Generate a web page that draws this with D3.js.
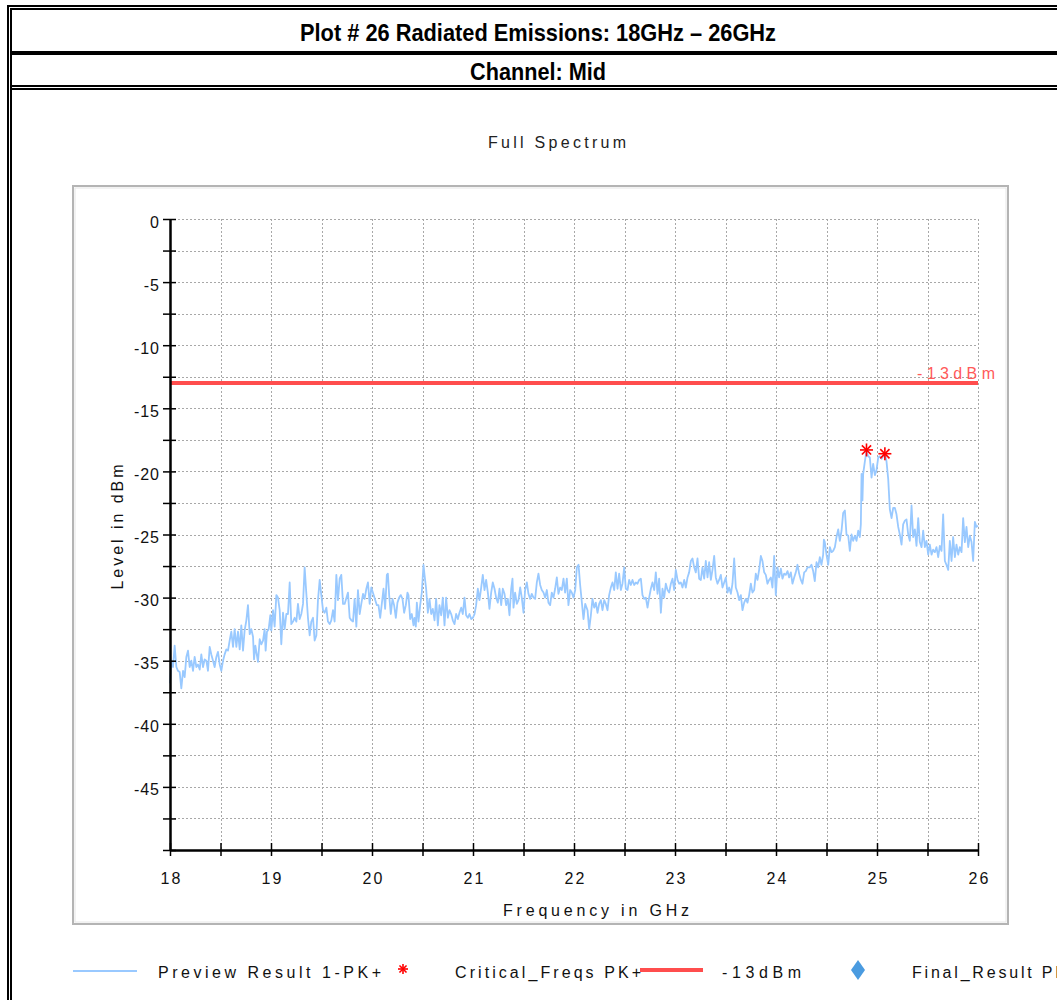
<!DOCTYPE html>
<html><head><meta charset="utf-8">
<script src="https://cdn.jsdelivr.net/npm/d3@7"></script>
<style>
html,body{margin:0;padding:0;background:#fff;overflow:hidden}
svg{display:block}
text{font-family:"Liberation Sans",Arial,sans-serif}
</style></head><body>
<svg id="c" width="1057" height="1000"></svg>
<script>
// ---------- DATA ----------
const headerTitle = "Plot # 26 Radiated Emissions: 18GHz \u2013 26GHz";
const channelTitle = "Channel: Mid";
const chartTitle = "Full Spectrum";
const xAxisTitle = "Frequency in GHz";
const yAxisTitle = "Level in dBm";
const xDomain = [18, 26];
const yDomain = [-50, 0];
const xMajorTicks = [18, 19, 20, 21, 22, 23, 24, 25, 26];
const xTickLabels = ["18", "19", "20", "21", "22", "23", "24", "25", "26"];
const xMinorTicks = [18.5, 19.5, 20.5, 21.5, 22.5, 23.5, 24.5, 25.5];
const yMajorTicks = [0, -5, -10, -15, -20, -25, -30, -35, -40, -45, -50];
const yTickLabels = ["0", "-5", "-10", "-15", "-20", "-25", "-30", "-35", "-40", "-45", ""];
const yMinorTicks = [-2.5, -7.5, -12.5, -17.5, -22.5, -27.5, -32.5, -37.5, -42.5, -47.5];
const limitLevel = -13;
const limitLabel = "-13dBm";
const criticalFreqs = [[24.896, -18.3], [25.078, -18.6]];
const legendLabels = ["Preview Result 1-PK+", "Critical_Freqs PK+", "-13dBm", "Final_Result PK+"];

// Preview Result 1-PK+ trace: [frequency GHz, level dBm]
const previewTrace = [
[18.000,-36.8],[18.013,-35.0],[18.030,-35.5],[18.046,-33.8],[18.063,-35.5],[18.079,-35.8],[18.096,-35.9],[18.112,-37.2],[18.129,-35.8],[18.145,-36.3],
[18.162,-34.7],[18.178,-34.2],[18.195,-35.5],[18.211,-35.0],[18.228,-35.8],[18.244,-34.7],[18.261,-35.5],[18.277,-35.3],[18.294,-35.7],[18.310,-34.5],
[18.327,-35.5],[18.343,-34.9],[18.360,-35.0],[18.376,-35.8],[18.393,-33.9],[18.409,-34.5],[18.426,-35.0],[18.442,-35.5],[18.459,-34.7],[18.475,-34.3],
[18.492,-35.3],[18.508,-35.8],[18.525,-35.0],[18.541,-34.5],[18.558,-34.1],[18.574,-34.2],[18.591,-33.4],[18.607,-32.7],[18.624,-33.9],[18.640,-32.5],
[18.657,-33.9],[18.673,-32.7],[18.690,-34.1],[18.706,-32.2],[18.723,-34.2],[18.739,-32.6],[18.756,-31.8],[18.772,-30.6],[18.789,-32.9],[18.805,-32.5],
[18.822,-33.1],[18.832,-34.9],[18.845,-33.8],[18.855,-34.3],[18.871,-35.1],[18.888,-33.3],[18.904,-33.7],[18.921,-33.4],[18.937,-32.5],[18.947,-34.2],
[18.960,-32.7],[18.977,-32.5],[18.993,-31.4],[19.003,-32.6],[19.020,-31.0],[19.036,-32.3],[19.053,-29.8],[19.069,-30.0],[19.086,-31.0],[19.102,-33.7],
[19.119,-31.2],[19.135,-32.5],[19.152,-31.3],[19.168,-31.3],[19.185,-28.8],[19.201,-32.1],[19.218,-31.9],[19.234,-31.6],[19.251,-31.9],[19.267,-30.5],
[19.284,-31.7],[19.300,-31.3],[19.317,-30.5],[19.333,-27.6],[19.350,-29.7],[19.366,-31.6],[19.383,-33.0],[19.399,-31.9],[19.416,-31.6],[19.432,-33.4],
[19.449,-33.0],[19.465,-30.2],[19.482,-28.6],[19.498,-29.8],[19.515,-31.0],[19.531,-31.2],[19.548,-30.8],[19.564,-31.9],[19.581,-32.1],[19.597,-31.8],
[19.614,-31.0],[19.630,-31.9],[19.647,-28.2],[19.663,-30.2],[19.680,-28.5],[19.696,-28.2],[19.713,-30.5],[19.729,-30.5],[19.762,-29.6],[19.779,-31.6],
[19.795,-31.8],[19.812,-31.9],[19.828,-30.1],[19.845,-32.3],[19.861,-29.4],[19.878,-31.3],[19.894,-30.5],[19.911,-29.7],[19.927,-30.1],[19.944,-29.3],
[19.960,-28.8],[19.977,-30.5],[19.993,-29.2],
[20.048,-30.6],[20.064,-30.6],[20.081,-31.6],[20.097,-30.5],[20.114,-29.3],[20.130,-30.9],[20.147,-28.2],[20.157,-28.1],[20.170,-29.8],[20.186,-31.3],
[20.203,-30.1],[20.219,-30.6],[20.236,-31.6],[20.252,-30.4],[20.269,-30.0],[20.285,-29.8],[20.302,-30.1],[20.318,-31.2],[20.335,-30.6],[20.351,-29.6],
[20.361,-29.8],[20.378,-31.7],[20.394,-31.3],[20.411,-32.2],[20.421,-31.6],[20.434,-32.3],[20.444,-30.4],[20.460,-31.9],[20.477,-30.6],[20.493,-29.6],
[20.510,-27.4],[20.520,-28.2],[20.536,-29.3],[20.553,-31.2],[20.569,-30.1],[20.586,-31.3],[20.602,-30.9],[20.619,-31.8],[20.635,-30.1],[20.652,-32.2],
[20.668,-30.6],[20.685,-31.4],[20.701,-30.0],[20.718,-32.2],[20.734,-30.0],[20.751,-31.6],[20.767,-31.0],[20.784,-31.3],[20.800,-31.8],[20.817,-32.1],
[20.833,-31.3],[20.850,-31.7],[20.866,-31.2],[20.883,-30.8],[20.899,-31.3],[20.916,-30.0],[20.932,-31.4],[20.949,-31.6],[20.965,-31.3],[20.982,-31.7],
[20.998,-31.6],[21.015,-31.3],[21.031,-30.6],[21.048,-29.3],[21.064,-30.2],[21.081,-29.2],[21.097,-28.2],[21.114,-29.4],[21.130,-28.6],[21.147,-29.6],
[21.163,-30.9],[21.180,-29.6],[21.196,-28.8],[21.213,-29.3],[21.229,-30.0],[21.246,-30.4],[21.262,-29.3],[21.279,-30.6],[21.295,-29.3],[21.312,-29.7],
[21.328,-30.6],[21.345,-30.1],[21.361,-31.4],[21.378,-29.3],[21.391,-28.5],[21.401,-30.8],[21.417,-29.6],[21.434,-30.5],[21.450,-30.2],[21.467,-29.2],
[21.483,-30.0],[21.500,-31.2],[21.516,-29.4],[21.533,-28.8],[21.549,-29.7],[21.566,-30.1],[21.582,-29.7],[21.599,-30.0],[21.615,-30.1],[21.632,-28.8],
[21.648,-28.1],[21.665,-29.0],[21.681,-29.4],[21.698,-29.6],[21.714,-30.0],[21.731,-29.4],[21.747,-30.4],[21.764,-30.6],[21.780,-29.6],[21.797,-30.0],
[21.813,-29.3],[21.830,-28.4],[21.846,-29.7],[21.863,-29.2],[21.879,-29.4],[21.896,-28.5],[21.912,-29.6],[21.929,-28.5],[21.945,-30.6],[21.962,-29.4],
[21.978,-29.6],[21.995,-30.0],[22.012,-29.4],[22.028,-27.6],[22.045,-27.4],[22.061,-29.0],[22.078,-30.4],[22.094,-31.7],[22.111,-30.5],
[22.134,-31.0],[22.150,-32.5],[22.167,-31.4],[22.183,-30.1],[22.200,-30.8],[22.216,-30.4],[22.233,-31.2],[22.249,-30.5],[22.266,-30.2],[22.282,-31.0],
[22.299,-30.2],[22.315,-30.5],[22.332,-31.0],[22.348,-29.8],[22.365,-29.2],[22.381,-28.8],[22.398,-29.4],[22.414,-28.0],[22.431,-29.3],[22.447,-28.1],
[22.464,-29.4],[22.480,-28.9],[22.497,-27.6],[22.513,-29.3],[22.530,-29.4],[22.546,-28.6],[22.563,-29.0],[22.579,-28.6],[22.596,-29.0],[22.612,-28.8],
[22.629,-28.9],[22.645,-28.6],[22.662,-28.5],[22.678,-29.8],[22.695,-30.1],[22.711,-30.0],[22.728,-30.8],[22.744,-30.0],[22.761,-29.3],[22.777,-28.8],
[22.794,-29.4],[22.810,-28.0],[22.827,-29.7],[22.843,-28.5],[22.860,-31.2],[22.876,-29.3],[22.893,-30.0],[22.909,-28.9],[22.926,-29.4],[22.942,-29.6],
[22.959,-28.9],[22.975,-28.5],[22.992,-29.4],[23.008,-27.8],[23.025,-28.6],[23.041,-28.9],[23.058,-28.8],[23.074,-29.2],[23.091,-28.6],[23.107,-29.2],
[23.124,-28.4],[23.140,-28.0],[23.157,-27.1],[23.173,-26.9],[23.190,-27.6],[23.206,-28.0],[23.223,-26.9],[23.239,-28.5],[23.256,-28.6],[23.272,-27.6],
[23.289,-28.5],[23.305,-27.1],[23.322,-28.4],[23.338,-27.2],[23.355,-28.6],[23.371,-27.8],[23.388,-26.7],[23.404,-28.4],[23.421,-28.9],[23.437,-28.6],
[23.454,-28.2],[23.470,-29.2],[23.487,-28.8],[23.503,-28.4],[23.520,-29.6],[23.536,-29.2],[23.553,-29.7],[23.569,-28.9],[23.586,-26.9],[23.602,-29.2],
[23.619,-29.6],[23.635,-30.2],[23.652,-29.8],[23.668,-31.0],[23.685,-30.4],[23.701,-30.1],[23.718,-30.4],[23.734,-29.8],[23.751,-28.9],[23.767,-29.6],
[23.784,-29.4],[23.800,-28.1],[23.817,-28.6],[23.833,-27.8],[23.850,-26.7],[23.866,-27.1],[23.883,-28.0],[23.899,-28.2],[23.916,-28.9],[23.932,-28.6],
[23.949,-28.4],[23.965,-29.2],[23.982,-26.7],[23.998,-29.8],[24.015,-27.6],[24.031,-28.4],[24.048,-27.7],[24.064,-28.5],[24.081,-28.1],[24.097,-28.2],
[24.114,-27.9],[24.130,-28.4],[24.147,-28.0],[24.163,-28.9],[24.180,-28.4],[24.196,-28.0],[24.213,-27.4],[24.229,-28.1],[24.246,-28.6],[24.262,-28.9],
[24.279,-28.0],[24.295,-27.9],[24.312,-27.6],
[24.335,-27.6],[24.351,-27.4],[24.368,-27.9],[24.384,-28.7],[24.401,-27.2],[24.417,-27.6],[24.434,-26.8],[24.450,-27.4],[24.467,-26.6],[24.474,-25.4],
[24.483,-25.6],[24.500,-26.6],[24.517,-27.4],[24.533,-26.0],[24.550,-26.4],[24.566,-26.3],[24.583,-26.0],[24.599,-25.2],[24.616,-24.6],[24.632,-25.5],
[24.649,-24.7],[24.665,-23.3],[24.682,-23.1],[24.698,-25.0],[24.715,-25.1],[24.731,-26.3],[24.748,-25.0],[24.764,-25.5],[24.781,-25.1],[24.797,-25.5],
[24.814,-24.7],[24.830,-25.2],[24.840,-24.2],[24.847,-20.2],[24.856,-22.3],[24.863,-20.2],[24.880,-19.2],[24.896,-18.4],[24.913,-18.8],[24.929,-18.9],
[24.946,-20.5],[24.962,-19.4],[24.979,-20.3],[24.995,-19.9],[25.012,-18.9],[25.028,-18.8],[25.045,-19.0],[25.061,-18.8],[25.078,-18.6],[25.094,-19.2],
[25.111,-20.6],[25.127,-23.0],[25.144,-23.7],[25.160,-22.9],[25.177,-22.9],[25.193,-23.4],[25.210,-24.4],[25.226,-25.0],[25.243,-25.8],[25.259,-24.2],
[25.276,-23.9],[25.292,-23.8],[25.309,-25.0],[25.325,-25.5],[25.342,-22.7],[25.358,-25.2],[25.375,-24.6],[25.391,-25.9],[25.408,-23.7],[25.424,-25.6],
[25.441,-26.0],[25.457,-24.7],[25.474,-26.0],[25.490,-25.5],[25.507,-26.6],[25.523,-25.8],[25.540,-26.6],[25.556,-26.2],[25.573,-26.4],[25.589,-26.0],
[25.606,-26.8],[25.622,-25.9],[25.639,-26.3],[25.655,-23.4],[25.672,-27.1],[25.688,-27.4],[25.705,-27.8],[25.721,-25.5],[25.738,-27.1],[25.754,-25.2],
[25.771,-26.8],[25.787,-25.8],[25.804,-26.6],[25.820,-26.0],[25.837,-26.4],[25.853,-23.7],[25.870,-25.6],[25.886,-24.4],[25.903,-26.0],[25.919,-25.1],
[25.936,-25.6],[25.952,-27.1],[25.969,-24.0],[25.985,-24.4],[26.000,-24.3]
];

// ---------- DRAW ----------
const svg = d3.select("#c");
const x = d3.scaleLinear().domain(xDomain).range([170, 978]);
const y = d3.scaleLinear().domain(yDomain).range([850, 219]);

// page frame (report table)
const frame = svg.append("g").attr("fill", "none").attr("stroke", "#000");
frame.append("line").attr("x1", 8).attr("x2", 8).attr("y1", 5).attr("y2", 1000).attr("stroke-width", 2);
frame.append("line").attr("x1", 11).attr("x2", 11).attr("y1", 8).attr("y2", 1000).attr("stroke-width", 2);
frame.append("line").attr("x1", 7).attr("x2", 1057).attr("y1", 6).attr("y2", 6).attr("stroke-width", 2);
frame.append("line").attr("x1", 10).attr("x2", 1057).attr("y1", 9).attr("y2", 9).attr("stroke-width", 2);
frame.append("line").attr("x1", 10).attr("x2", 1057).attr("y1", 53).attr("y2", 53).attr("stroke-width", 4);
frame.append("line").attr("x1", 10).attr("x2", 1057).attr("y1", 86).attr("y2", 86).attr("stroke-width", 2);
frame.append("line").attr("x1", 10).attr("x2", 1057).attr("y1", 89).attr("y2", 89).attr("stroke-width", 2);

const headFont = '"Liberation Sans Narrow","Arial Narrow","Liberation Sans",Arial,sans-serif';
svg.append("text").attr("x", 538).attr("y", 41).attr("text-anchor", "middle")
  .style("font-family", headFont).attr("font-weight", "bold").attr("font-size", 24)
  .attr("textLength", 476).attr("lengthAdjust", "spacingAndGlyphs").text(headerTitle);
svg.append("text").attr("x", 538).attr("y", 80).attr("text-anchor", "middle")
  .style("font-family", headFont).attr("font-weight", "bold").attr("font-size", 24)
  .attr("textLength", 136).attr("lengthAdjust", "spacingAndGlyphs").text(channelTitle);

// plot box
svg.append("rect").attr("x", 73).attr("y", 186).attr("width", 935).attr("height", 738)
  .attr("fill", "#fff").attr("stroke", "#b4b4b4").attr("stroke-width", 2);
svg.append("rect").attr("x", 75).attr("y", 188).attr("width", 931).attr("height", 734)
  .attr("fill", "none").attr("stroke", "#e6e6e6").attr("stroke-width", 1);

svg.append("text").attr("x", 557).attr("y", 148).attr("text-anchor", "middle")
  .attr("font-size", 16).attr("fill", "#222").attr("textLength", 138).attr("lengthAdjust", "spacing")
  .text(chartTitle);

// grid
const grid = svg.append("g").attr("stroke", "#a8a8a8").attr("stroke-width", 1).attr("stroke-dasharray", "2,2");
const vGrid = xMajorTicks.concat(xMinorTicks).filter(d => d > xDomain[0]);
grid.selectAll("line.v").data(vGrid).join("line").attr("class", "v")
  .attr("x1", d => Math.round(x(d)) + 0.5).attr("x2", d => Math.round(x(d)) + 0.5)
  .attr("y1", y(0)).attr("y2", y(-50));
const hGrid = yMajorTicks.concat(yMinorTicks).filter(d => d > yDomain[0]);
grid.selectAll("line.h").data(hGrid).join("line").attr("class", "h")
  .attr("x1", x(18)).attr("x2", x(26))
  .attr("y1", d => Math.round(y(d)) + 0.5).attr("y2", d => Math.round(y(d)) + 0.5);

// limit line
svg.append("line").attr("x1", x(18)).attr("x2", x(26)).attr("y1", y(limitLevel)).attr("y2", y(limitLevel))
  .attr("stroke", "#ff4d4d").attr("stroke-width", 4);
svg.append("text").attr("x", 917).attr("y", y(limitLevel) - 4).attr("font-size", 16).attr("fill", "#ff5a5a")
  .attr("textLength", 78).attr("lengthAdjust", "spacing").text(limitLabel);

// trace
const line = d3.line().x(d => x(d[0])).y(d => y(d[1]));
svg.append("path").datum(previewTrace).attr("d", line)
  .attr("fill", "none").attr("stroke", "#99c9ff").attr("stroke-width", 1.8).attr("stroke-linejoin", "round");

// asterisk marker
function asterisk(g, r) {
  [0, 45, 90, 135].forEach(a => {
    g.append("line").attr("x1", -r).attr("x2", r).attr("y1", 0).attr("y2", 0)
      .attr("transform", `rotate(${a})`).attr("stroke", "#ff0000").attr("stroke-width", 1.6);
  });
}
criticalFreqs.forEach(d => {
  const g = svg.append("g").attr("transform", `translate(${x(d[0])},${y(d[1])})`);
  asterisk(g, 6.5);
});

// axes
const allY = yMajorTicks.concat(yMinorTicks);
const yLab = new Map(yMajorTicks.map((v, i) => [v, yTickLabels[i]]));
const yAx = svg.append("g").attr("transform", `translate(${x(18)},0)`)
  .call(d3.axisLeft(y).tickValues(allY).tickSize(7).tickSizeOuter(0).tickPadding(3)
    .tickFormat(d => yLab.has(d) ? yLab.get(d) : ""));
svg.append("g").attr("transform", `translate(${x(18)},0)`)
  .call(d3.axisRight(y).tickValues(allY).tickSize(6).tickSizeOuter(0).tickFormat(""));
yAx.selectAll("text").attr("font-size", 16).attr("fill", "#111").attr("dy", "0.5em")
  .style("letter-spacing", "1px").style("font-family", '"Liberation Sans",Arial,sans-serif');

const allX = xMajorTicks.concat(xMinorTicks);
const xLab = new Map(xMajorTicks.map((v, i) => [v, xTickLabels[i]]));
const xAx = svg.append("g").attr("transform", `translate(0,${y(-50)})`)
  .call(d3.axisBottom(x).tickValues(allX).tickSize(6).tickSizeOuter(0)
    .tickFormat(d => xLab.has(d) ? xLab.get(d) : ""));
svg.append("g").attr("transform", `translate(0,${y(-50)})`)
  .call(d3.axisTop(x).tickValues(allX).tickSize(7).tickSizeOuter(0).tickFormat(""));
xAx.selectAll("text").attr("font-size", 16).attr("fill", "#111").attr("y", 34).attr("dy", 0)
  .attr("dx", "1px").style("letter-spacing", "2px").style("font-family", '"Liberation Sans",Arial,sans-serif');
svg.selectAll(".domain").attr("stroke", "#000").attr("stroke-width", 2);
svg.selectAll(".tick line").attr("stroke", "#000").attr("stroke-width", 1.5);

// axis titles
svg.append("text").attr("transform", "translate(123,527) rotate(-90)").attr("text-anchor", "middle")
  .attr("font-size", 16).attr("fill", "#111").attr("textLength", 125).attr("lengthAdjust", "spacing").text(yAxisTitle);
svg.append("text").attr("x", 596).attr("y", 916).attr("text-anchor", "middle")
  .attr("font-size", 16).attr("fill", "#111").attr("textLength", 186).attr("lengthAdjust", "spacing").text(xAxisTitle);

// legend
const ly = 971;
const lg = svg.append("g");
lg.append("line").attr("x1", 73).attr("x2", 137).attr("y1", ly).attr("y2", ly).attr("stroke", "#99c9ff").attr("stroke-width", 2);
lg.append("text").attr("x", 158).attr("y", ly + 7).attr("font-size", 16).attr("fill", "#111")
  .attr("textLength", 223).attr("lengthAdjust", "spacing").text(legendLabels[0]);
asterisk(lg.append("g").attr("transform", `translate(403,${ly - 2})`), 5);
lg.append("text").attr("x", 455).attr("y", ly + 7).attr("font-size", 16).attr("fill", "#111")
  .attr("textLength", 186).attr("lengthAdjust", "spacing").text(legendLabels[1]);
lg.append("line").attr("x1", 640).attr("x2", 703).attr("y1", ly - 1).attr("y2", ly - 1).attr("stroke", "#ff4d4d").attr("stroke-width", 4);
lg.append("text").attr("x", 722).attr("y", ly + 7).attr("font-size", 16).attr("fill", "#111")
  .attr("textLength", 79).attr("lengthAdjust", "spacing").text(legendLabels[2]);
lg.append("path").attr("d", "M0,-10L7,0L0,10L-7,0Z").attr("transform", `translate(858,${ly - 1})`).attr("fill", "#4a9be0");
lg.append("text").attr("x", 912).attr("y", ly + 7).attr("font-size", 16).attr("fill", "#111")
  .attr("textLength", 166).attr("lengthAdjust", "spacing").text(legendLabels[3]);
</script>
</body></html>
